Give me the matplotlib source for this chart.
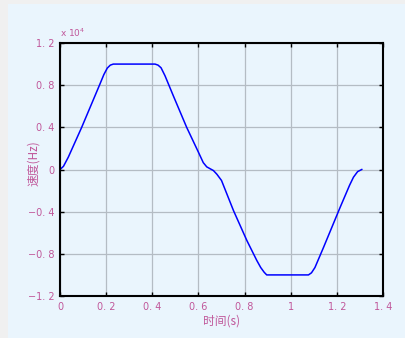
import matplotlib
matplotlib.use("Agg")
import matplotlib.pyplot as plt
from matplotlib.patches import Rectangle

plt.rcParams['font.family'] = ['Noto Sans CJK SC', 'DejaVu Sans']

# time (s) and speed (x1e4 Hz)
t = [0.0, 0.015, 0.036, 0.094, 0.173, 0.190, 0.205, 0.218, 0.231, 0.30,
     0.36, 0.412, 0.425, 0.438, 0.455, 0.491, 0.549, 0.600, 0.621, 0.636,
     0.650, 0.665, 0.680, 0.700, 0.752, 0.810, 0.853, 0.870, 0.885, 0.896,
     0.95, 1.00, 1.05, 1.077, 1.090, 1.105, 1.142, 1.214, 1.255, 1.272,
     1.290, 1.308]
v = [0.0, 0.03, 0.117, 0.40, 0.81, 0.90, 0.962, 0.99, 1.0, 1.0,
     1.0, 1.0, 0.99, 0.965, 0.89, 0.70, 0.40, 0.164, 0.065, 0.025,
     0.008, -0.01, -0.045, -0.104, -0.39, -0.674, -0.863, -0.93, -0.975, -1.0,
     -1.0, -1.0, -1.0, -1.0, -0.98, -0.93, -0.74, -0.36, -0.15, -0.073,
     -0.02, 0.0]

xticks = [0, 0.2, 0.4, 0.6, 0.8, 1.0, 1.2, 1.4]
xticklabels = ['0', '0. 2', '0. 4', '0. 6', '0. 8', '1', '1. 2', '1. 4']
yticks = [-1.2, -0.8, -0.4, 0, 0.4, 0.8, 1.2]
yticklabels = ['\u22121. 2', '\u22120. 8', '\u22120. 4', '0', '0. 4', '0. 8', '1. 2']

bg = '#eaf5fd'
pink = '#c0579a'

fig = plt.figure(figsize=(4.06, 3.38), dpi=100, facecolor='#f0f0f0')
fig.patches.append(Rectangle((8/406, 0), 1 - 8/406, 1 - 4/338, transform=fig.transFigure,
                             facecolor=bg, edgecolor='none', zorder=-10))
ax = fig.add_axes([60/406, 42/338, 323/406, 253/338])
ax.set_facecolor(bg)
ax.plot(t, v, color='#0000ff', lw=1.1)
ax.set_xlim(0, 1.4)
ax.set_ylim(-1.2, 1.2)
ax.set_xticks(xticks)
ax.set_xticklabels(xticklabels)
ax.set_yticks(yticks)
ax.set_yticklabels(yticklabels)
ax.grid(True, color='#b4bcc4', lw=0.9)
ax.tick_params(direction='in', top=True, right=True, length=3, width=1,
               labelsize=7, labelcolor=pink, pad=4)
for lab in ax.get_xticklabels() + ax.get_yticklabels():
    lab.set_family('DejaVu Sans')
for s in ax.spines.values():
    s.set_linewidth(1.5)
    s.set_color('black')
ax.set_xlabel('时间(s)', fontsize=8.5, color=pink)
ax.xaxis.set_label_coords(0.5, -0.072)
ax.set_ylabel('速度(Hz)', fontsize=8.5, color=pink)
ax.yaxis.set_label_coords(-0.062, 0.526)
ax.text(0.0, 1.015, 'x 10$^{4}$', transform=ax.transAxes, fontsize=6.5,
        color=pink, family='DejaVu Sans', ha='left', va='bottom')
fig.savefig('out.png', dpi=100, facecolor=fig.get_facecolor())
